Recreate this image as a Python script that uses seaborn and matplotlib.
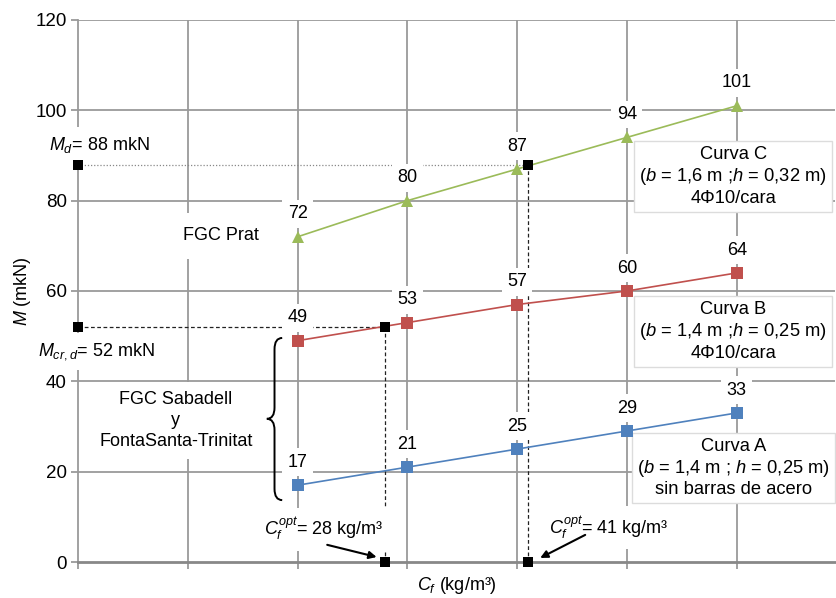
import matplotlib
matplotlib.use('Agg')
import matplotlib.pyplot as plt
from matplotlib.path import Path
from matplotlib.patches import PathPatch
import seaborn as sns
import pandas as pd
import numpy as np

# datos
cf = [20, 30, 40, 50, 60]
m_a = [17, 21, 25, 29, 33]
m_b = [49, 53, 57, 60, 64]
m_c = [72, 80, 87, 94, 101]
curvas = ['A', 'B', 'C']

m_d = 88
m_crd = 52
cf_opt_a = 28
cf_opt_c = 41

ref_x = [0, 0, cf_opt_a, cf_opt_c, cf_opt_a, cf_opt_c]
ref_y = [m_d, m_crd, m_crd, m_d, 0, 0]

y_ticks = [0, 20, 40, 60, 80, 100, 120]
x_grid = [0, 10, 20, 30, 40, 50, 60]

colores = {'A': '#4f81bd', 'B': '#c0504d', 'C': '#9bbb59'}
marcas = {'A': 's', 'B': 's', 'C': '^'}

df = pd.DataFrame({
    'Cf': cf * 3,
    'M': m_a + m_b + m_c,
    'curva': ['A'] * 5 + ['B'] * 5 + ['C'] * 5,
})
df_ref = pd.DataFrame({'x': ref_x, 'y': ref_y})

sns.set_theme(style='white')
plt.rcParams['font.family'] = ['Liberation Sans', 'DejaVu Sans']
plt.rcParams['mathtext.fontset'] = 'custom'
plt.rcParams['mathtext.rm'] = 'Liberation Sans'
plt.rcParams['mathtext.it'] = 'Liberation Sans:italic'
plt.rcParams['mathtext.bf'] = 'Liberation Sans:bold'
plt.rcParams['text.color'] = 'black'
plt.rcParams['axes.labelcolor'] = 'black'
plt.rcParams['ytick.labelcolor'] = 'black'

fs = 13.5
fs_box = 13.2
fs_lab = 13

fig = plt.figure(figsize=(8.37, 5.98), dpi=100)
ax = fig.add_axes([0.0932, 0.0602, 0.905, 0.9064])

grid_c = '#9a9a9a'
# rejilla
for v in y_ticks[1:]:
    ax.axhline(v, color=grid_c, lw=1.3, zorder=0.5)
for v in x_grid[1:]:
    ax.axvline(v, color=grid_c, lw=1.3, zorder=0.5)

# líneas de referencia
ax.plot([0, cf_opt_c], [m_d, m_d], color='#888888', lw=0.9, ls=(0, (1, 1.5)), zorder=1.5)
ax.plot([0, cf_opt_a], [m_crd, m_crd], color='#222222', lw=0.9, ls=(0, (3, 2)), zorder=1.5)
ax.plot([cf_opt_a, cf_opt_a], [0, m_crd], color='#222222', lw=0.9, ls=(0, (3, 2)), zorder=1.5)
ax.plot([cf_opt_c, cf_opt_c], [0, m_d], color='#222222', lw=0.9, ls=(0, (3, 2)), zorder=1.5)

# curvas
sns.lineplot(data=df, x='Cf', y='M', hue='curva', style='curva',
             palette=colores, markers=marcas, dashes=False, lw=1.2,
             markersize=8, markeredgewidth=0, legend=False, ax=ax, zorder=3)

sns.scatterplot(data=df_ref, x='x', y='y', marker='s', color='black', s=45,
                linewidth=0, ax=ax, zorder=4, clip_on=False)

# etiquetas de valores
caja = dict(boxstyle='square,pad=0.3', fc='white', ec='none')
for serie in [m_a, m_b, m_c]:
    for x, y in zip(cf, serie):
        ax.annotate(str(y), (x, y), xytext=(0, 16.5), textcoords='offset points',
                    ha='center', va='center', fontsize=fs_lab, bbox=caja, zorder=2)

caja_t = dict(boxstyle='square,pad=0.45', fc='white', ec='none')
ax.text(13, 72.2, 'FGC Prat', ha='center', va='center', fontsize=fs_lab,
        bbox=dict(boxstyle='square,pad=0.8', fc='white', ec='none'), zorder=2)
ax.text(8.9, 31.4, 'FGC Sabadell\ny\nFontaSanta-Trinitat', ha='center', va='center',
        fontsize=fs_lab, linespacing=1.3,
        bbox=dict(boxstyle='square,pad=0.5', fc='white', ec='none'), zorder=2)
ax.text(1.95, 92.3, r'$M_d$= 88 mkN', ha='center', va='center', fontsize=fs_lab,
        bbox=caja_t, zorder=2, clip_on=False)
ax.text(1.7, 46.6, r'$M_{cr,d}$= 52 mkN', ha='center', va='center', fontsize=fs_lab,
        bbox=caja_t, zorder=2, clip_on=False)
ax.text(22.4, 7.3, r'$C_f^{opt}$= 28 kg/m³', ha='center', va='center', fontsize=fs_lab,
        bbox=caja_t, zorder=2)
ax.text(48.3, 7.7, r'$C_f^{opt}$= 41 kg/m³', ha='center', va='center', fontsize=fs_lab,
        bbox=caja_t, zorder=2)

flecha = dict(arrowstyle='-|>', color='black', lw=1.5, mutation_scale=11,
              shrinkA=0, shrinkB=0)
ax.annotate('', xy=(27.2, 1.1), xytext=(22.7, 3.8), arrowprops=flecha, zorder=5)
ax.annotate('', xy=(42.1, 0.9), xytext=(46.2, 6.0), arrowprops=flecha, zorder=5)

# cajas de las curvas
caja_c = dict(boxstyle='square,pad=0.28', fc='white', ec='#dcdcdc', lw=1)
ax.text(59.7, 85.3, 'Curva C\n($b$ = 1,6 m ;$h$ = 0,32 m)\n4Φ10/cara', ha='center',
        va='center', fontsize=fs_box, linespacing=1.2, bbox=caja_c, zorder=2)
ax.text(59.7, 51.0, 'Curva B\n($b$ = 1,4 m ;$h$ = 0,25 m)\n4Φ10/cara', ha='center',
        va='center', fontsize=fs_box, linespacing=1.2, bbox=caja_c, zorder=2)
ax.text(59.7, 20.8, 'Curva A\n($b$ = 1,4 m ; $h$ = 0,25 m)\nsin barras de acero', ha='center',
        va='center', fontsize=fs_box, linespacing=1.2, bbox=caja_c, zorder=2)

# llave
xe, xs, xt = 18.6, 17.9, 17.2
yt, ym, yb, r = 49.6, 31.7, 13.7, 2.5
verts = [(xe, yt), (xs, yt), (xs, yt - r), (xs, ym + r), (xs, ym), (xt, ym),
         (xs, ym), (xs, ym - r), (xs, yb + r), (xs, yb), (xe, yb)]
codes = [Path.MOVETO, Path.CURVE3, Path.CURVE3, Path.LINETO, Path.CURVE3, Path.CURVE3,
         Path.CURVE3, Path.CURVE3, Path.LINETO, Path.CURVE3, Path.CURVE3]
ax.add_patch(PathPatch(Path(verts, codes), fc='none', ec='black', lw=1.4, zorder=5))

ax.set_xlim(0, 69)
ax.set_ylim(0, 120)
ax.set_yticks(y_ticks)
ax.set_xticks(x_grid)
ax.set_xticklabels([])
ax.tick_params(axis='y', direction='out', length=5, width=1.3, color=grid_c,
               labelsize=fs, pad=3, left=True)
ax.tick_params(axis='x', direction='out', length=5, width=1.3, color=grid_c, bottom=True)
for s in ['top', 'right']:
    ax.spines[s].set_visible(False)
ax.spines['left'].set_color(grid_c)
ax.spines['left'].set_linewidth(1.3)
ax.spines['bottom'].set_color('#888888')
ax.spines['bottom'].set_linewidth(2)
ax.spines['left'].set_zorder(0.6)

ax.set_xlabel(r'$C_f$ (kg/m³)', fontsize=fs_lab, labelpad=1)
ax.set_ylabel(r'$M$ (mkN)', fontsize=fs_lab, labelpad=2)

fig.savefig('out.png', dpi=100)
